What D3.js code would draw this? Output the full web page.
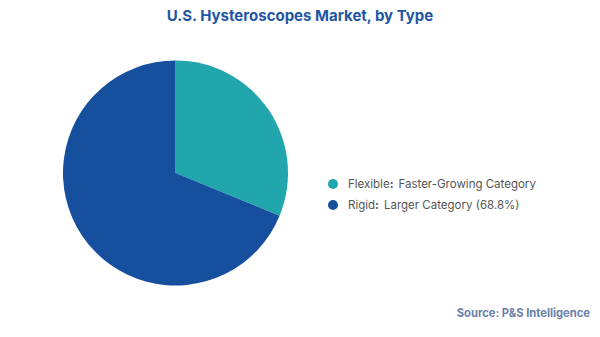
<!DOCTYPE html>
<html>
<head>
<meta charset="utf-8">
<script src="https://cdn.jsdelivr.net/npm/d3@7"></script>
<style>
  body { margin: 0; background: #fff; }
  svg { display: block; font-family: Inter, "Noto Sans", sans-serif; }
</style>
</head>
<body>
<svg></svg>
<script>
// data
var categories = ["Flexible", "Rigid"];
var shares = [31.2, 68.8];
var notes = ["Faster-Growing Category", "Larger Category (68.8%)"];
var colors = ["#21a6ad", "#154f9e"];

var svgWidth = 600, svgHeight = 337;
var svg = d3.select("svg")
    .attr("width", svgWidth)
    .attr("height", svgHeight);

// title
svg.append("text")
    .attr("x", 300)
    .attr("y", 21)
    .attr("text-anchor", "middle")
    .attr("font-size", 15)
    .attr("font-weight", 700)
    .attr("fill", "#1f56a3")
    .text("U.S. Hysteroscopes Market, by Type");

// pie
var radius = 112.5;
var pie = d3.pie().sort(null).value(function(d) { return d; });
var arc = d3.arc().innerRadius(0).outerRadius(radius);

var group = svg.append("g")
    .attr("transform", "translate(175.5, 173)");

group.selectAll("path")
    .data(pie(shares))
    .enter().append("path")
    .attr("d", arc)
    .attr("fill", function(d, i) { return colors[i]; });

// legend
var legend = svg.append("g")
    .attr("transform", "translate(333, 184)");

var item = legend.selectAll("g")
    .data(categories)
    .enter().append("g")
    .attr("transform", function(d, i) { return "translate(0," + (i * 21) + ")"; });

item.append("circle")
    .attr("r", 5)
    .attr("fill", function(d, i) { return colors[i]; });

var label = item.append("text")
    .attr("x", 15)
    .attr("y", 4)
    .attr("font-size", 11.5)
    .attr("fill", "#555");
label.append("tspan")
    .text(function(d) { return d; });
label.append("tspan")
    .attr("font-weight", 700)
    .text(":");
label.append("tspan")
    .attr("dx", 5)
    .text(function(d, i) { return notes[i]; });

// source
svg.append("text")
    .attr("x", 590)
    .attr("y", 317)
    .attr("text-anchor", "end")
    .attr("font-size", 11.2)
    .attr("font-weight", 700)
    .attr("fill", "#6c80aa")
    .text("Source: P&S Intelligence");
</script>
</body>
</html>
